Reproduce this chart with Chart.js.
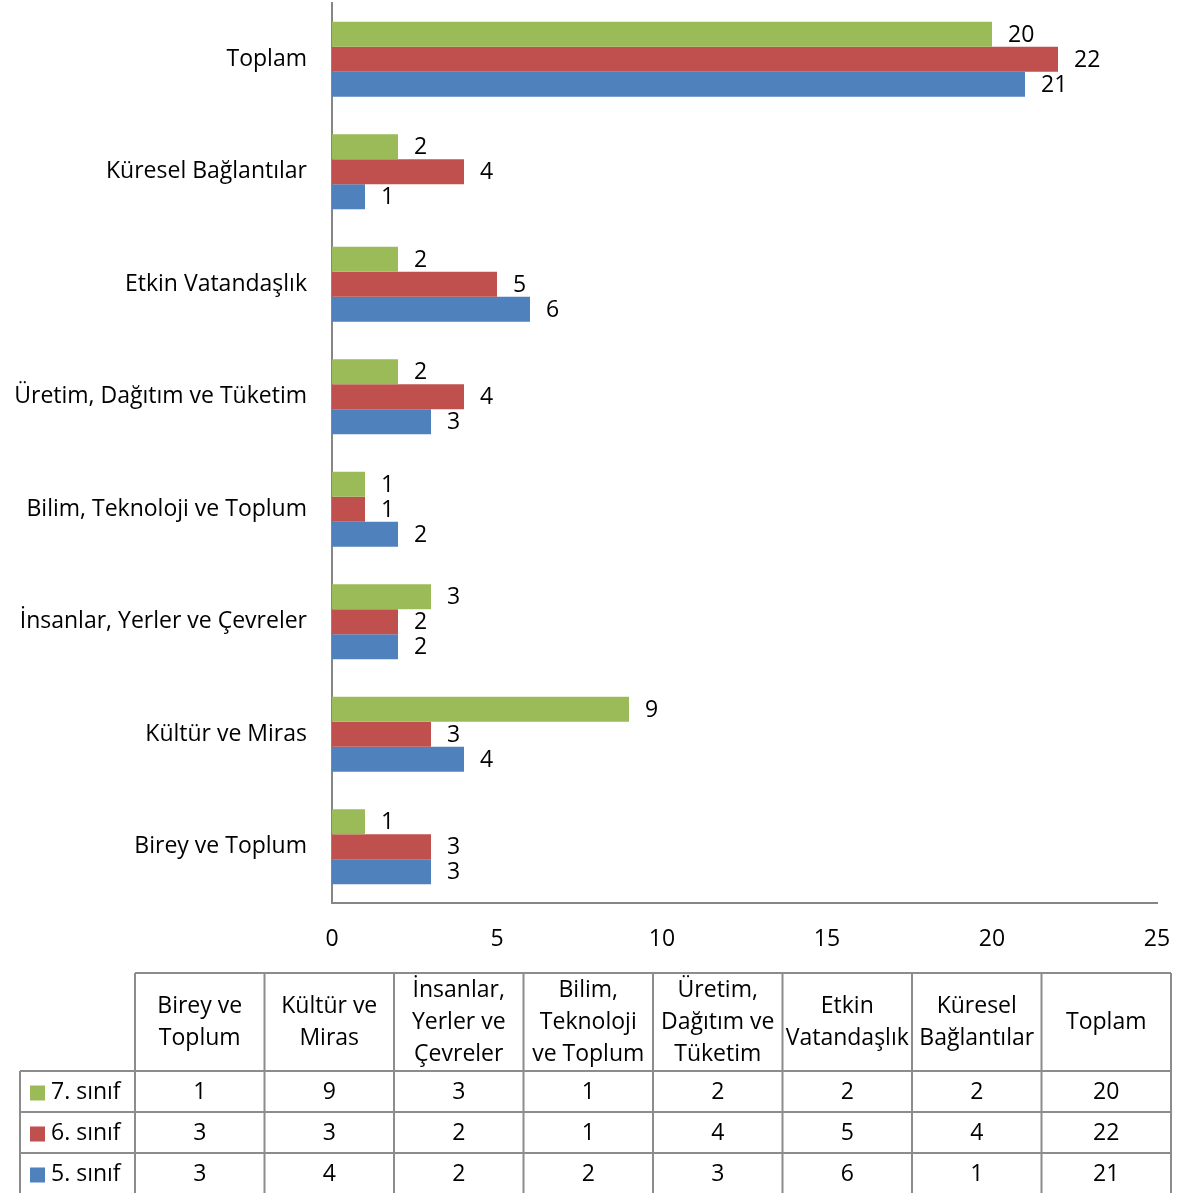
<!DOCTYPE html>
<html>
<head>
<meta charset="utf-8">
<script src="https://cdn.jsdelivr.net/npm/chart.js@4"></script>
<style>
    html, body { margin: 0; padding: 0; background: #fff; }
    #wrap { width: 1179px; height: 1193px; }
</style>
</head>
<body>
<div id="wrap"><canvas id="chart" width="1179" height="1193"></canvas></div>
<script>
// Categories (table order, bottom to top on the chart)
const categories = ['Birey ve Toplum', 'Kültür ve Miras', 'İnsanlar, Yerler ve Çevreler', 'Bilim, Teknoloji ve Toplum',
    'Üretim, Dağıtım ve Tüketim', 'Etkin Vatandaşlık', 'Küresel Bağlantılar', 'Toplam'];

// Same categories, split as in the table header
const headerLines = [['Birey ve', 'Toplum'], ['Kültür ve', 'Miras'], ['İnsanlar,', 'Yerler ve', 'Çevreler'],
    ['Bilim,', 'Teknoloji', 've Toplum'], ['Üretim,', 'Dağıtım ve', 'Tüketim'], ['Etkin', 'Vatandaşlık'],
    ['Küresel', 'Bağlantılar'], ['Toplam']];

// Series
const seriesNames = ['7. sınıf', '6. sınıf', '5. sınıf'];
const sinif7 = [1, 9, 3, 1, 2, 2, 2, 20];
const sinif6 = [3, 3, 2, 1, 4, 5, 4, 22];
const sinif5 = [3, 4, 2, 2, 3, 6, 1, 21];

// x axis
const xMin = 0;
const xMax = 25;
const xStep = 5;

const colors = ['#9BBB59', '#C0504D', '#4F81BD'];
const fontFamily = '"Open Sans", Lato, sans-serif';
const fontSize = 23;

// Value labels next to each bar
const barLabels = {
    id: 'barLabels',
    afterDatasetsDraw(chart) {
        const ctx = chart.ctx;
        ctx.save();
        ctx.font = fontSize + 'px ' + fontFamily;
        ctx.fillStyle = '#000';
        ctx.textAlign = 'left';
        ctx.textBaseline = 'middle';
        chart.data.datasets.forEach((ds, i) => {
            chart.getDatasetMeta(i).data.forEach((bar, j) => {
                ctx.fillText(String(ds.data[j]), bar.x + 16, bar.y + 1);
            });
        });
        ctx.restore();
    }
};

// Data table under the chart
const dataTable = {
    id: 'dataTable',
    afterDraw(chart) {
        const ctx = chart.ctx;
        const colX = [20, 135, 264.5, 394, 523.5, 653, 782.5, 912, 1041.5, 1171];
        const rowY = [973, 1071, 1112, 1153, 1194];
        const lineH = 32;
        ctx.save();
        ctx.strokeStyle = '#8C8C8C';
        ctx.lineWidth = 2;

        // header row (no cell in the first column)
        ctx.beginPath();
        ctx.moveTo(colX[1], rowY[0]);
        ctx.lineTo(colX[9], rowY[0]);
        for (let c = 1; c < colX.length; c++) {
            ctx.moveTo(colX[c], rowY[0]);
            ctx.lineTo(colX[c], rowY[4]);
        }
        for (let r = 1; r < rowY.length; r++) {
            ctx.moveTo(colX[0], rowY[r]);
            ctx.lineTo(colX[9], rowY[r]);
        }
        ctx.moveTo(colX[0], rowY[1]);
        ctx.lineTo(colX[0], rowY[4]);
        ctx.stroke();

        ctx.font = fontSize + 'px ' + fontFamily;
        ctx.fillStyle = '#000';
        ctx.textAlign = 'center';
        ctx.textBaseline = 'middle';
        headerLines.forEach((lines, c) => {
            const cx = (colX[c + 1] + colX[c + 2]) / 2;
            const cy = (rowY[0] + rowY[1]) / 2;
            lines.forEach((t, k) => {
                ctx.fillText(t, cx, cy + (k - (lines.length - 1) / 2) * lineH);
            });
        });

        chart.data.datasets.forEach((ds, r) => {
            const cy = (rowY[r + 1] + rowY[r + 2]) / 2 + 1;
            ctx.fillStyle = colors[r];
            ctx.fillRect(30, cy - 7, 15, 15);
            ctx.fillStyle = '#000';
            ctx.textAlign = 'left';
            ctx.fillText(ds.label, 51, cy);
            ctx.textAlign = 'center';
            ds.data.forEach((v, c) => {
                ctx.fillText(String(v), (colX[c + 1] + colX[c + 2]) / 2, cy);
            });
        });
        ctx.restore();
    }
};

const ctx = document.getElementById('chart').getContext('2d');

const chart = new Chart(ctx, {
    type: 'bar',
    data: {
        labels: categories,
        datasets: [
            { label: seriesNames[0], data: sinif7, backgroundColor: colors[0] },
            { label: seriesNames[1], data: sinif6, backgroundColor: colors[1] },
            { label: seriesNames[2], data: sinif5, backgroundColor: colors[2] }
        ]
    },
    options: {
        indexAxis: 'y',
        responsive: false,
        animation: false,
        devicePixelRatio: 1,
        categoryPercentage: 0.667,
        barPercentage: 1.0,
        layout: {
            padding: { left: 0, right: 22, top: 3, bottom: 230 }
        },
        plugins: {
            legend: { display: false },
            tooltip: { enabled: false }
        },
        scales: {
            y: {
                reverse: true,
                grid: { display: false, drawTicks: false },
                border: { display: true, color: '#868686', width: 2 },
                ticks: {
                    color: '#000',
                    padding: 25,
                    font: { family: fontFamily, size: fontSize }
                },
                afterFit(scale) {
                    scale.width = 332;
                    scale.paddingTop = 0;
                    scale.paddingBottom = 0;
                }
            },
            x: {
                min: xMin,
                max: xMax,
                grid: { display: false, drawTicks: false },
                border: { display: true, color: '#868686', width: 2 },
                ticks: {
                    stepSize: xStep,
                    color: '#000',
                    padding: 23,
                    maxRotation: 0,
                    font: { family: fontFamily, size: fontSize }
                },
                afterFit(scale) {
                    scale.height = 60;
                    scale.paddingLeft = 0;
                    scale.paddingRight = 0;
                }
            }
        }
    },
    plugins: [barLabels, dataTable]
});
</script>
</body>
</html>
